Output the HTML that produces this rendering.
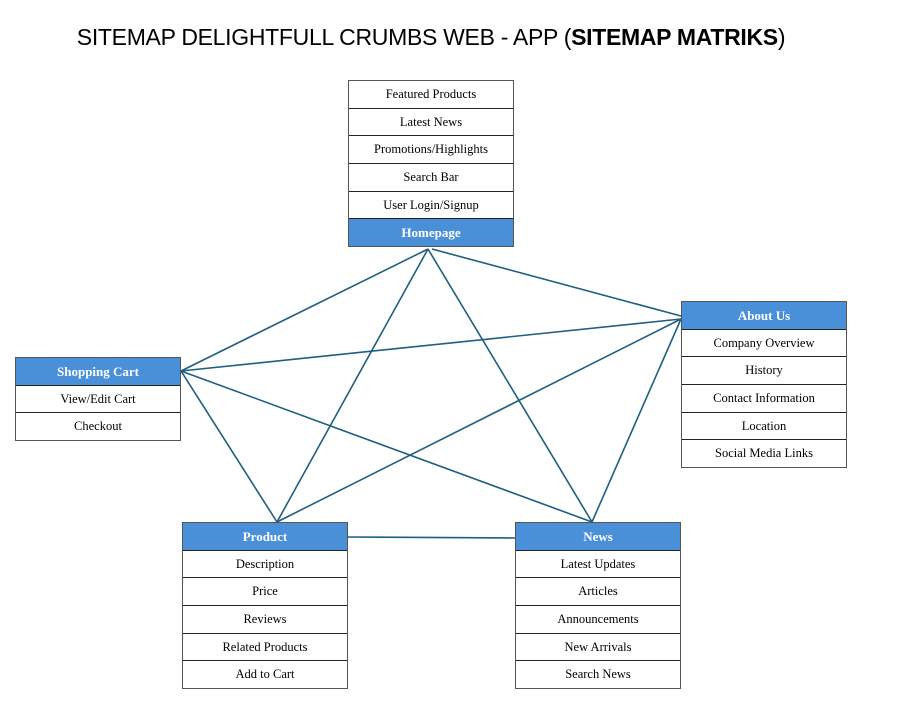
<!DOCTYPE html>
<html><head><style>
body{margin:0;width:902px;height:720px;background:#fff;position:relative;overflow:hidden;font-family:"Liberation Serif",serif;}
.t{position:absolute;left:0;top:24px;width:862px;text-align:center;font-family:"Liberation Sans",sans-serif;font-size:23px;color:#000;letter-spacing:-0.3px}
.box{position:absolute;width:164px;border:1px solid #555;}
.r{height:26.7px;line-height:27px;text-align:center;font-size:12.5px;color:#000;border-top:1px solid #222;background:#fff}
.r:first-child{border-top:none}
.h{background:#4a90d9;color:#fff;font-weight:bold;font-size:13px}
svg{position:absolute;left:0;top:0}
</style></head><body>
<div class="t">SITEMAP DELIGHTFULL CRUMBS WEB - APP (<b>SITEMAP MATRIKS</b>)</div>
<svg width="902" height="720"><g stroke="#1f5f80" stroke-width="1.6" fill="none">
<line x1="428" y1="249" x2="181" y2="371"/>
<line x1="428" y1="249" x2="277" y2="522"/>
<line x1="428" y1="249" x2="592" y2="522"/>
<line x1="432" y1="249" x2="681" y2="316"/>
<line x1="181" y1="371" x2="681" y2="319"/>
<line x1="181" y1="371" x2="277" y2="522"/>
<line x1="181" y1="371" x2="592" y2="522"/>
<line x1="681" y1="319" x2="277" y2="522"/>
<line x1="681" y1="319" x2="592" y2="522"/>
<line x1="348" y1="537" x2="515" y2="538"/>
</g></svg>
<div class="box" style="left:348px;top:80px">
<div class="r">Featured Products</div><div class="r">Latest News</div><div class="r">Promotions/Highlights</div><div class="r">Search Bar</div><div class="r">User Login/Signup</div><div class="r h">Homepage</div></div>
<div class="box" style="left:15px;top:357px">
<div class="r h">Shopping Cart</div><div class="r">View/Edit Cart</div><div class="r">Checkout</div></div>
<div class="box" style="left:681px;top:301px">
<div class="r h">About Us</div><div class="r">Company Overview</div><div class="r">History</div><div class="r">Contact Information</div><div class="r">Location</div><div class="r">Social Media Links</div></div>
<div class="box" style="left:182px;top:522px">
<div class="r h">Product</div><div class="r">Description</div><div class="r">Price</div><div class="r">Reviews</div><div class="r">Related Products</div><div class="r">Add to Cart</div></div>
<div class="box" style="left:515px;top:522px">
<div class="r h">News</div><div class="r">Latest Updates</div><div class="r">Articles</div><div class="r">Announcements</div><div class="r">New Arrivals</div><div class="r">Search News</div></div>
</body></html>
